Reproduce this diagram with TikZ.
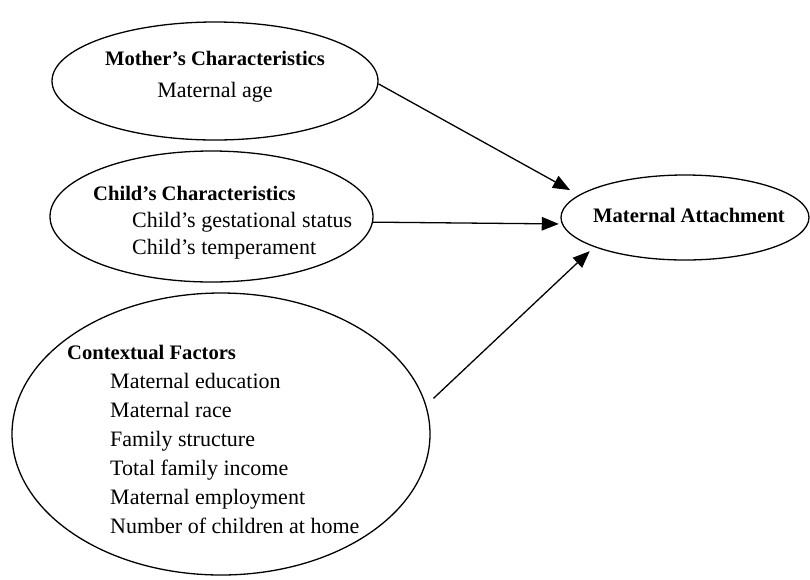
\documentclass[tikz,border=0pt]{standalone}
\usepackage{fontspec}
\setmainfont{Liberation Serif}
\usepackage{tikz}
\usetikzlibrary{arrows.meta,shapes.geometric}
\newcommand{\factorhead}[1]{{\fontsize{20.6}{29}\selectfont\bfseries #1}}
\tikzset{
 factor/.style={
 ellipse,
 draw=black,
 line width=1.3pt,
 inner sep=0pt
 },
 factortext/.style={
 inner sep=0pt,
 align=left,
 anchor=north west,
 font=\fontsize{22}{29}\selectfont
 },
 causalarrow/.style={-{Triangle[length=17pt,width=13.5pt]}, line width=1.3pt, draw=black}
}

\begin{document}
\begin{tikzpicture}[x=1pt,y=-1pt]
	\useasboundingbox (0,0) rectangle (810,579);

	\node[factor, minimum width=326pt, minimum height=118pt] (mother) at (215,81) {};
	\node[factor, minimum width=323pt, minimum height=131pt] (child) at (211.5,216.5) {};
	\node[factor, minimum width=418pt, minimum height=282pt] (ctx) at (221,434) {};
	\node[factor, minimum width=248pt, minimum height=85pt] (attach) at (685,217.5) {};

	\node[factortext, align=center, anchor=north, font=\fontsize{22}{32}\selectfont] (mothertext) at (215,51)
		{\factorhead{Mother's Characteristics}\\Maternal age};
	\node[factortext, font=\fontsize{22}{27}\selectfont] (childtext) at (93,186)
		{\factorhead{Child's Characteristics}\\
		\hspace*{39pt}Child's gestational status\\
		\hspace*{39pt}Child's temperament};
	\node[factortext] (ctxtext) at (67,345)
		{\factorhead{Contextual Factors}\\
		\hspace*{43pt}Maternal education\\
		\hspace*{43pt}Maternal race\\
		\hspace*{43pt}Family structure\\
		\hspace*{43pt}Total family income\\
		\hspace*{43pt}Maternal employment\\
		\hspace*{43pt}Number of children at home};
	\node[inner sep=0pt, anchor=base] (attachtext) at (689,222) {\factorhead{Maternal Attachment}};

	\draw[causalarrow, shorten >=10pt] (mother.-1.5) -- (attach.168);
	\draw[causalarrow, shorten >=3pt] (child.-2) -- (attach.183);
	\draw[causalarrow, shorten <=10pt, shorten >=6pt] (ctx.8) -- (attach.198);
\end{tikzpicture}
\end{document}
